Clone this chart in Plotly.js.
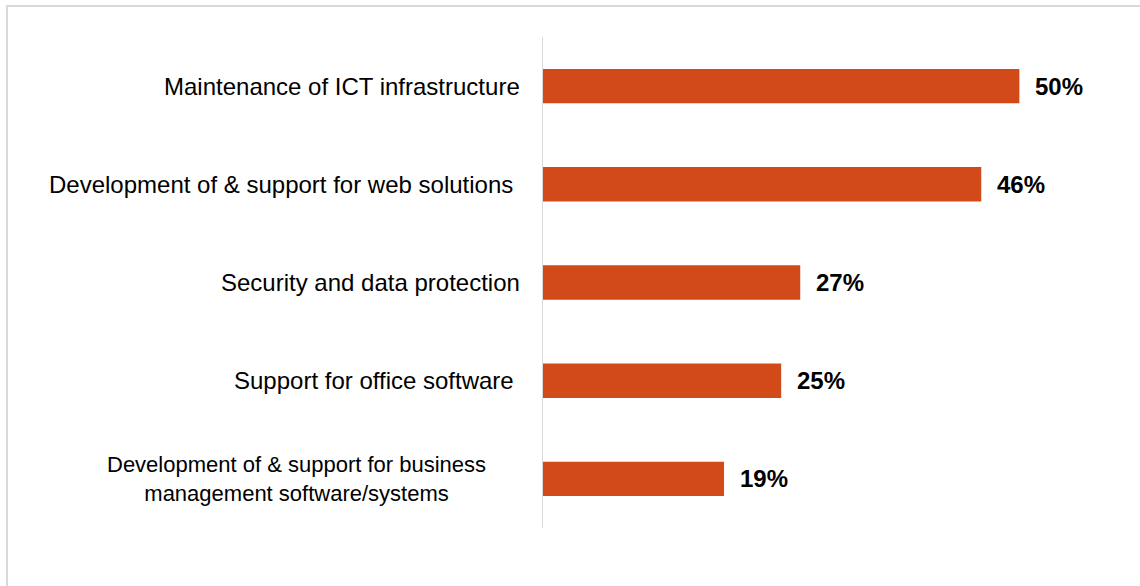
<!DOCTYPE html>
<html>
<head>
<meta charset="utf-8">
<script src="https://cdn.plot.ly/plotly-3.0.1.min.js"></script>
<style>
  html, body { margin: 0; padding: 0; background: #fff; overflow: hidden; }
  #chart { width: 1140px; height: 586px; }
  /* heller Rahmen wie im Original (rechts/unten abgeschnitten) */
  #frame {
    position: absolute; left: 6px; top: 5px;
    width: 1200px; height: 700px;
    border: 2px solid #d9d9d9; pointer-events: none;
  }
</style>
</head>
<body>
<div id="chart"></div>
<div id="frame"></div>
<script>
// Kategorien und Werte (in Prozent)
const categories = [
    'Maintenance of ICT infrastructure',
    'Development of & support for web solutions\u00a0',
    'Security and data protection',
    'Support for office software\u00a0',
    'Development of & support for business<br>management software/systems'
];
const values = [50, 46, 27, 25, 19];

const barColor = '#D24A1A';
const fontFamily = 'Arial, "Liberation Sans", sans-serif';

// Balken
const trace = {
    type: 'bar',
    orientation: 'h',
    y: categories,
    x: values,
    marker: { color: barColor },
    hoverinfo: 'none'
};

// Kategorie-Beschriftungen (mehrzeilig zentriert -> Annotationen)
const lastIdx = categories.length - 1;
const catLabels = categories.map((c, i) => ({
    xref: 'paper', yref: 'y',
    x: 0, y: c,
    text: c,
    showarrow: false,
    xanchor: 'right',
    align: 'center',
    xshift: i === lastIdx ? -55 : -21,
    font: { family: fontFamily, size: i === lastIdx ? 22 : 24, color: '#000' }
}));

// Prozentwerte rechts neben den Balken
const valueLabels = values.map((v, i) => ({
    xref: 'x', yref: 'y',
    x: v, y: categories[i],
    text: '<b>' + v + '%</b>',
    showarrow: false,
    xanchor: 'left',
    xshift: 14,
    font: { family: fontFamily, size: 24, color: '#000' }
}));

const layout = {
    width: 1140,
    height: 586,
    paper_bgcolor: '#fff',
    plot_bgcolor: '#fff',
    margin: { t: 37, l: 543, r: 73, b: 58 },
    bargap: 0.65,
    showlegend: false,
    xaxis: {
        range: [0, 55],
        showticklabels: false,
        showgrid: false,
        zeroline: false,
        showline: false,
        fixedrange: true
    },
    yaxis: {
        autorange: 'reversed',
        showticklabels: false,
        showgrid: false,
        zeroline: false,
        showline: true,
        linecolor: '#d9d9d9',
        linewidth: 1.5,
        ticks: '',
        fixedrange: true
    },
    annotations: catLabels.concat(valueLabels),
    font: { family: fontFamily, color: '#000' }
};

Plotly.newPlot('chart', [trace], layout, { displayModeBar: false, staticPlot: true });
</script>
</body>
</html>
